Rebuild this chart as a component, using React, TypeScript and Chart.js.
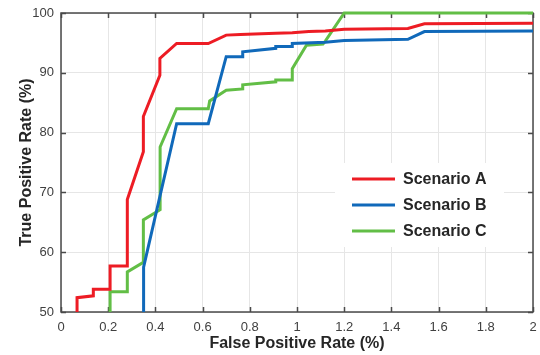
import { useEffect, useRef } from "react";
import { Chart, registerables } from "chart.js";

Chart.register(...registerables);

// ROC-style curves: false positive rate (%) vs true positive rate (%)
const fprA = [0.068, 0.068, 0.137, 0.137, 0.208, 0.208, 0.281, 0.281, 0.349, 0.349, 0.419, 0.419, 0.49, 0.624, 0.70, 0.76, 0.91, 0.98, 1.05, 1.12, 1.20, 1.47, 1.54, 2.0];
const tprA = [50, 52.4, 52.7, 53.8, 53.8, 57.7, 57.7, 68.8, 76.8, 82.7, 89.6, 92.4, 94.9, 94.9, 96.3, 96.4, 96.6, 96.7, 96.9, 97.0, 97.3, 97.4, 98.2, 98.3];

const fprB = [0.35, 0.35, 0.49, 0.624, 0.70, 0.77, 0.77, 0.91, 0.91, 0.98, 0.98, 1.12, 1.20, 1.47, 1.54, 2.0];
const tprB = [50, 57.5, 81.5, 81.5, 92.7, 92.7, 93.5, 94.1, 94.4, 94.4, 94.9, 95.1, 95.4, 95.6, 96.9, 97.0];

const fprC = [0.208, 0.208, 0.281, 0.281, 0.349, 0.349, 0.42, 0.42, 0.49, 0.624, 0.63, 0.70, 0.77, 0.77, 0.91, 0.91, 0.98, 0.98, 1.04, 1.11, 1.12, 1.20, 2.0];
const tprC = [50, 53.4, 53.4, 56.7, 58.3, 65.4, 67.1, 77.6, 84.0, 84.0, 85.3, 87.1, 87.3, 88.0, 88.5, 88.8, 88.8, 90.7, 94.6, 94.8, 95.3, 100, 100];

const seriesNames = ["Scenario A", "Scenario B", "Scenario C"];
const seriesColors = ["#ED1C24", "#1069BA", "#62BE46"];

const xRange = [0, 2];
const yRange = [50, 100];
const xStep = 0.2;
const yStep = 10;

const xTitle = "False Positive Rate (%)";
const yTitle = "True Positive Rate (%)";

const FONT = "'Liberation Sans', Arial, Helvetica, sans-serif";

const toPoints = (xs: number[], ys: number[]) => xs.map((x, i) => ({ x, y: ys[i] }));

// Trim trailing zeros: 0, 0.2, ..., 1, 1.2, ..., 2
const fmtTick = (v: number | string) => String(Number(Number(v).toFixed(1)));

// Axes box with inward ticks on all four sides (drawn under the curves)
const framePlugin = {
  id: "frameBox",
  beforeDatasetsDraw(chart: any) {
    const { ctx, chartArea: a, scales } = chart;
    const len = 5;
    ctx.save();
    ctx.strokeStyle = "#4a4a4a";
    ctx.lineWidth = 1.5;
    ctx.beginPath();
    for (const t of scales.x.ticks) {
      const px = Math.round(scales.x.getPixelForValue(t.value)) + 0.5;
      ctx.moveTo(px, a.bottom);
      ctx.lineTo(px, a.bottom - len);
      ctx.moveTo(px, a.top);
      ctx.lineTo(px, a.top + len);
    }
    for (const t of scales.y.ticks) {
      const py = Math.round(scales.y.getPixelForValue(t.value)) + 0.5;
      ctx.moveTo(a.left, py);
      ctx.lineTo(a.left + len, py);
      ctx.moveTo(a.right, py);
      ctx.lineTo(a.right - len, py);
    }
    ctx.stroke();
    ctx.strokeRect(a.left, a.top, a.right - a.left, a.bottom - a.top);
    ctx.restore();
  },
};

// Legend box inside the plot area, lower right
const legendPlugin = {
  id: "insideLegend",
  afterDatasetsDraw(chart: any) {
    const { ctx, chartArea: a } = chart;
    const w = 169;
    const h = 84;
    const x0 = a.right - 29 - w;
    const y0 = a.top + 150;
    ctx.save();
    ctx.fillStyle = "#ffffff";
    ctx.fillRect(x0, y0, w, h);
    ctx.font = `bold 16px ${FONT}`;
    ctx.textBaseline = "middle";
    ctx.textAlign = "left";
    chart.data.datasets.forEach((ds: any, i: number) => {
      const y = y0 + 16 + i * 26;
      ctx.strokeStyle = ds.borderColor;
      ctx.lineWidth = 3;
      ctx.beginPath();
      ctx.moveTo(x0 + 17, y);
      ctx.lineTo(x0 + 60, y);
      ctx.stroke();
      ctx.fillStyle = "#262626";
      ctx.fillText(ds.label, x0 + 68, y + 1);
    });
    ctx.restore();
  },
};

export default function App() {
  const canvasRef = useRef<HTMLCanvasElement | null>(null);

  useEffect(() => {
    const canvas = canvasRef.current;
    if (!canvas) return;
    const series = [toPoints(fprA, tprA), toPoints(fprB, tprB), toPoints(fprC, tprC)];
    const chart = new Chart(canvas, {
      type: "line",
      data: {
        datasets: series.map((pts, i) => ({
          label: seriesNames[i],
          data: pts,
          borderColor: seriesColors[i],
          backgroundColor: seriesColors[i],
          borderWidth: 3,
          pointRadius: 0,
          tension: 0,
          fill: false,
          clip: false as any,
          borderJoinStyle: "miter" as const,
        })),
      },
      options: {
        responsive: false,
        animation: false,
        events: [],
        layout: { padding: { top: 13, right: 7, left: 0, bottom: 0 } },
        plugins: {
          legend: { display: false },
          tooltip: { enabled: false },
        },
        scales: {
          x: {
            type: "linear",
            min: xRange[0],
            max: xRange[1],
            afterFit: (s: any) => {
              s.height = 43;
              s.paddingLeft = 0;
              s.paddingRight = 0;
            },
            ticks: {
              stepSize: xStep,
              padding: 8,
              color: "#404040",
              font: { family: FONT, size: 13 },
              maxRotation: 0,
              callback: (v: any) => fmtTick(v),
            },
            grid: { color: "#e6e6e6", drawTicks: false, lineWidth: 1 },
            border: { display: false },
            title: {
              display: true,
              text: xTitle,
              color: "#262626",
              font: { family: FONT, size: 16, weight: "bold" },
              padding: { top: 0, bottom: 2 },
            },
          },
          y: {
            type: "linear",
            min: yRange[0],
            max: yRange[1],
            afterFit: (s: any) => {
              s.width = 61;
              s.paddingTop = 0;
              s.paddingBottom = 0;
            },
            ticks: {
              stepSize: yStep,
              padding: 7,
              color: "#404040",
              font: { family: FONT, size: 13 },
              callback: (v: any) => fmtTick(v),
            },
            grid: { color: "#e6e6e6", drawTicks: false, lineWidth: 1 },
            border: { display: false },
            title: {
              display: true,
              text: yTitle,
              color: "#262626",
              font: { family: FONT, size: 16, weight: "bold" },
              padding: { top: 17, bottom: 0 },
            },
          },
        },
      },
      plugins: [framePlugin, legendPlugin],
    });
    return () => chart.destroy();
  }, []);

  return (
    <div style={{ position: "absolute", left: 0, top: 0, width: 540, height: 355, background: "#fff" }}>
      <canvas ref={canvasRef} width={540} height={355} style={{ display: "block" }} />
    </div>
  );
}
